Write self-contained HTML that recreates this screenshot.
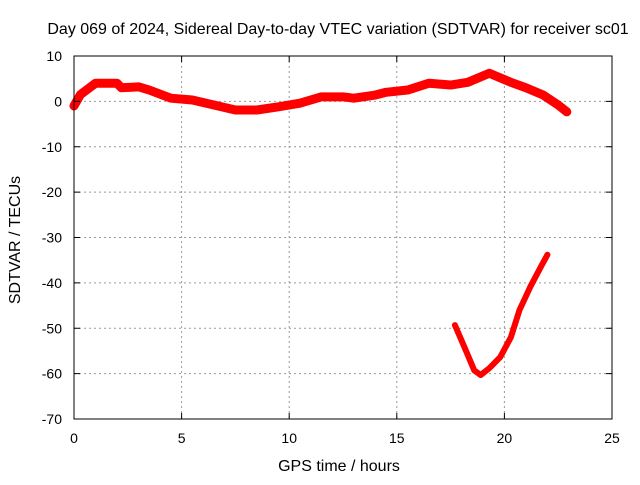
<!DOCTYPE html>
<html><head><meta charset="utf-8"><style>
body{margin:0;background:#fff;}
svg text{font-family:"Liberation Sans",sans-serif;font-size:14px;fill:#000;}
</style></head><body>
<svg id="chart" width="640" height="480" xmlns="http://www.w3.org/2000/svg">
<rect width="640" height="480" fill="#fff"/>
<text x="338" y="34" text-anchor="middle" style="font-size:16px">Day 069 of 2024, Sidereal Day-to-day VTEC variation (SDTVAR) for receiver sc01</text>
<g id="grid"></g>
<g id="series"></g>
<rect x="74" y="56" width="538" height="363" fill="none" stroke="#000" stroke-width="1"/>
<g id="ticks"></g>
<text x="339" y="471" text-anchor="middle" style="font-size:16px">GPS time / hours</text>
<text transform="translate(20,240) rotate(-90)" text-anchor="middle" style="font-size:16px">SDTVAR / TECUs</text>
</svg>
<script>
const xTicks=[0,5,10,15,20,25];
const yTicks=[10,0,-10,-20,-30,-40,-50,-60,-70];
const bandTimes=[0,0.3,1,1.5,2,2.2,3,3.5,4.5,5.5,6.5,7.5,8.5,9.5,10.5,11.5,12.5,13,14,14.5,15.5,16.5,17.5,18.3,19.3,20.3,21,21.8,22.5,22.9];
const bandValues=[-1,1.5,4,4,4,3,3.2,2.5,0.7,0.3,-0.8,-1.9,-1.9,-1.2,-0.4,1,1,0.7,1.4,2,2.5,4,3.6,4.2,6.2,4.2,3,1.4,-0.8,-2.3];
const lowTimes=[17.7,18.2,18.6,18.9,19.3,19.8,20.3,20.7,21.2,21.7,22.0];
const lowValues=[-49.3,-54.8,-59.3,-60.3,-58.8,-56.4,-52,-46,-40.9,-36.4,-33.8];
const X=t=>74+t*(538/25);
const Y=v=>56+(10-v)*(363/80);
const NS='http://www.w3.org/2000/svg';
const grid=document.getElementById('grid'),ticks=document.getElementById('ticks'),ser=document.getElementById('series');
function mk(tag,attrs,parent){const e=document.createElementNS(NS,tag);for(const k in attrs)e.setAttribute(k,attrs[k]);parent.appendChild(e);return e;}
xTicks.forEach(t=>{
  if(t>0&&t<25){const g=mk('line',{x1:X(t),x2:X(t),y1:56,y2:419,stroke:'#999','stroke-dasharray':'2,3'},grid);
  
  }
  mk('line',{x1:X(t),x2:X(t),y1:419,y2:413,stroke:'#000'},ticks);
  mk('line',{x1:X(t),x2:X(t),y1:56,y2:62,stroke:'#000'},ticks);
  const l=mk('text',{x:X(t),y:443,'text-anchor':'middle'},ticks);l.textContent=t;
  
  
});
yTicks.forEach(v=>{
  if(v<10&&v>-70){const g=mk('line',{x1:74,x2:612,y1:Y(v),y2:Y(v),stroke:'#999','stroke-dasharray':'2,3'},grid);
  
  }
  mk('line',{x1:74,x2:80,y1:Y(v),y2:Y(v),stroke:'#000'},ticks);
  mk('line',{x1:612,x2:606,y1:Y(v),y2:Y(v),stroke:'#000'},ticks);
  const l=mk('text',{x:62,y:Y(v)+5,'text-anchor':'end'},ticks);l.textContent=v;
  
  
});
const b=mk('polyline',{points:bandTimes.map((t,i)=>X(t)+','+Y(bandValues[i])).join(' '),fill:'none',stroke:'#f00','stroke-width':9,'stroke-linejoin':'round','stroke-linecap':'round'},ser);


const lo=mk('polyline',{points:lowTimes.map((t,i)=>X(t)+','+Y(lowValues[i])).join(' '),fill:'none',stroke:'#f00','stroke-width':6,'stroke-linejoin':'round','stroke-linecap':'round'},ser);


</script>
</body></html>
